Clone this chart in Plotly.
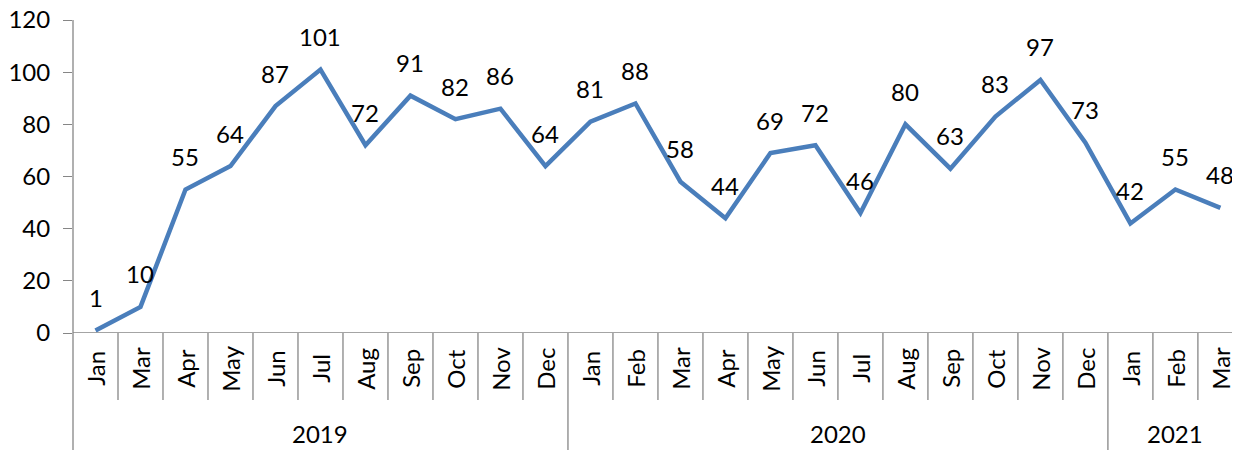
import plotly.graph_objects as go

months = ["Jan", "Mar", "Apr", "May", "Jun", "Jul", "Aug", "Sep", "Oct", "Nov", "Dec",
          "Jan", "Feb", "Mar", "Apr", "May", "Jun", "Jul", "Aug", "Sep", "Oct", "Nov", "Dec",
          "Jan", "Feb", "Mar"]
years = ["2019"] * 11 + ["2020"] * 12 + ["2021"] * 3
values = [1, 10, 55, 64, 87, 101, 72, 91, 82, 86, 64,
          81, 88, 58, 44, 69, 72, 46, 80, 63, 83, 97, 73,
          42, 55, 48]
y_ticks = [0, 20, 40, 60, 80, 100, 120]

FONT = "Lato"
AXIS = "#868686"
LINE = "#4A7EBB"

x = list(range(len(values)))

fig = go.Figure()
fig.add_trace(go.Scatter(x=x, y=values, mode="lines",
                         line=dict(color=LINE, width=4.5), hoverinfo="skip"))

annotations = []
for i, v in enumerate(values):
    annotations.append(dict(x=i, y=v, xref="x", yref="y", text=str(v), showarrow=False,
                            yshift=33, yanchor="middle", xanchor="center",
                            font=dict(family=FONT, size=24, color="black")))
for i, m in enumerate(months):
    annotations.append(dict(x=i, y=-0.113, xref="x", yref="paper", text=m, showarrow=False,
                            textangle=-90, xanchor="center", yanchor="middle",
                            font=dict(family=FONT, size=24, color="black")))

# year groups
groups = []
for i, yv in enumerate(years):
    if not groups or groups[-1][0] != yv:
        groups.append([yv, i, i])
    else:
        groups[-1][2] = i
for yv, a, b in groups:
    annotations.append(dict(x=(a + b) / 2, y=-0.32, xref="x", yref="paper", text=yv,
                            showarrow=False, xanchor="center", yanchor="middle",
                            font=dict(family=FONT, size=24, color="black")))

shapes = []
# month separators
for i in range(len(values) - 1):
    long = years[i] != years[i + 1]
    shapes.append(dict(type="line", xref="x", yref="paper", x0=i + 0.5, x1=i + 0.5,
                       y0=0, y1=-0.374 if long else -0.214,
                       line=dict(color=AXIS, width=1.3)))
# y axis line extended
shapes.append(dict(type="line", xref="paper", yref="paper", x0=0, x1=0, y0=-0.374, y1=1,
                   line=dict(color=AXIS, width=1.3)))
# x axis line
shapes.append(dict(type="line", xref="paper", yref="y", x0=0, x1=1, y0=0, y1=0,
                   line=dict(color=AXIS, width=1.3)))

fig.update_layout(
    width=1232, height=442,
    margin=dict(l=65, r=7, t=12, b=117),
    paper_bgcolor="white", plot_bgcolor="white",
    showlegend=False,
    annotations=annotations,
    shapes=shapes,
    xaxis=dict(range=[-0.5, 25.28], showgrid=False, zeroline=False, showticklabels=False,
               showline=False, ticks="", automargin=False),
    yaxis=dict(range=[0, 120], tickvals=y_ticks, showgrid=False, zeroline=False,
               showline=False, ticks="outside", ticklen=9, tickcolor=AXIS, tickwidth=1.3,
               ticklabelstandoff=8, automargin=False, ticklabeloverflow="allow",
               tickfont=dict(family=FONT, size=24, color="black")),
)

fig.write_html("out.html")
